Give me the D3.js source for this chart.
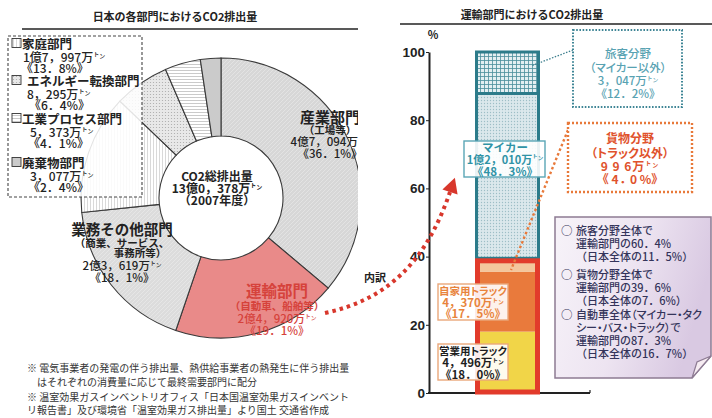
<!DOCTYPE html>
<html>
<head>
<meta charset="utf-8">
<script src="https://cdn.jsdelivr.net/npm/d3@7"></script>
<style>
  html, body { margin: 0; padding: 0; background: #fff; }
  svg { display: block; font-family: "Noto Sans CJK JP", "Noto Sans", sans-serif; }
  .palt { font-feature-settings: "palt"; }
</style>
</head>
<body>
<svg id="chart" width="712" height="418"></svg>
<script>
// ---- CO2 emissions by sector, FY2007 (万トン) ----
const sectorNames = ["産業部門", "運輸部門", "業務その他部門", "家庭部門", "エネルギー転換部門", "工業プロセス部門", "廃棄物部門"];
const sectorSubs  = ["（工場等）", "（自動車、船舶等）", "（商業、サービス、|事務所等）", "", "", "", ""];
const sectorTons  = [47094, 24920, 23619, 17997, 8295, 5373, 3077];
const sectorPct   = [36.1, 19.1, 18.1, 13.8, 6.4, 4.1, 2.4];
const totalTons   = 130378;
const totalYear   = "2007年度";

// ---- Transport sector breakdown (% of transport), stacked bottom to top ----
const modeNames  = ["営業用トラック", "自家用トラック", "貨物分野（トラック以外）", "マイカー", "旅客分野（マイカー以外）"];
const modeGroups = ["貨物", "貨物", "貨物", "旅客", "旅客"];
const modePct    = [18.0, 17.5, 4.0, 48.3, 12.2];
const modeTons   = [4496, 4370, 996, 12010, 3047];
const barCategory = "運輸部門";
const yTicks = [0, 20, 40, 60, 80, 100];

const summaryLines = [
  ["○", "旅客分野全体で"], ["", "運輸部門の60．4%"], ["", "（日本全体の11．5%）"],
  ["○", "貨物分野全体で"], ["", "運輸部門の39．6%"], ["", "（日本全体の7．6%）"],
  ["○", "自動車全体（マイカー・タク"], ["", "シー・バス・トラック）で"], ["", "運輸部門の87．3%"], ["", "（日本全体の16．7%）"]
];
const notes = [
  "※ 電気事業者の発電の伴う排出量、熱供給事業者の熱発生に伴う排出量",
  "はそれぞれの消費量に応じて最終需要部門に配分",
  "※ 温室効果ガスインベントリオフィス「日本国温室効果ガスインベント",
  "リ報告書」及び環境省「温室効果ガス排出量」より国土 交通省作成"
];

// ---- formatting helpers ----
function fmtTons(n) {
  const oku = Math.floor(n / 10000), rest = n % 10000;
  let s;
  if (rest >= 1000 || oku > 0) {
    s = Math.floor(rest / 1000) + "，" + String(rest % 1000).padStart(3, "0");
  } else {
    s = String(rest);
  }
  return (oku > 0 ? oku + "億" : "") + s;
}
function fmtPct(p) { return "《" + p.toFixed(1).replace(".", "．") + "%》"; }

const svg = d3.select("#chart");
const defs = svg.append("defs");

function makePattern(id, w, h, bg, draw) {
  const p = defs.append("pattern").attr("id", id)
    .attr("patternUnits", "userSpaceOnUse").attr("width", w).attr("height", h);
  p.append("rect").attr("width", w).attr("height", h).attr("fill", bg);
  draw(p);
}
makePattern("p-ind", 4, 4, "#d7d7d7", p => p.append("path").attr("d", "M0,4L4,0").attr("stroke", "#e6e6e6").attr("stroke-width", 0.8));
makePattern("p-com", 4, 4, "#dcdcdc", p => p.append("path").attr("d", "M0,4L4,0").attr("stroke", "#e9e9e9").attr("stroke-width", 0.8));
makePattern("p-house", 3, 3, "#ffffff", p => p.append("path").attr("d", "M1.5,0V3").attr("stroke", "#c9c9c9").attr("stroke-width", 0.7));
makePattern("p-energy", 3, 3, "#e8e8e8", p => p.append("circle").attr("cx", 1.5).attr("cy", 1.5).attr("r", 0.6).attr("fill", "#a9a9a9"));
makePattern("p-proc", 3, 3, "#ffffff", p => p.append("path").attr("d", "M0,1.5H3").attr("stroke", "#b3b3b3").attr("stroke-width", 0.7));
makePattern("p-mycar", 3, 3, "#dbe8ec", p => p.append("circle").attr("cx", 1.5).attr("cy", 1.5).attr("r", 0.65).attr("fill", "#9dbec6"));
makePattern("p-psg", 4, 4, "#e4eff2", p => p.append("path").attr("d", "M0,0.5H4M0.5,0V4").attr("stroke", "#4b8e9c").attr("stroke-width", 0.8));

const grad = defs.append("linearGradient").attr("id", "g-info").attr("x1", 0).attr("x2", 1).attr("y1", 0).attr("y2", 0.3);
grad.append("stop").attr("offset", 0).attr("stop-color", "#f7f3f9");
grad.append("stop").attr("offset", 0.55).attr("stop-color", "#ede4f1");
grad.append("stop").attr("offset", 1).attr("stop-color", "#d9c9e2");

defs.append("clipPath").attr("id", "clip-left").append("rect").attr("x", 0).attr("y", 0).attr("width", 358).attr("height", 418);

const sectorFill = ["url(#p-ind)", "#e98a89", "url(#p-com)", "url(#p-house)", "url(#p-energy)", "url(#p-proc)", "#cbcbcb"];

// text helper: a single line, optionally ending with 万 + raised small トン
function label(g, x, y, str, o) {
  const t = g.append("text").attr("x", x).attr("y", y)
    .attr("text-anchor", o.anchor || "middle")
    .attr("dominant-baseline", "central")
    .attr("font-size", o.size).attr("font-weight", o.weight || 700)
    .attr("fill", o.color || "#222");
  if (o.palt) t.attr("class", "palt");
  if (o.tons) {
    t.append("tspan").text(str + "万");
    t.append("tspan").attr("font-size", "0.5em").attr("dy", "-0.5em").text("ト");
    t.append("tspan").attr("font-size", "0.5em").attr("dy", "0.4em").text("ン");
  } else {
    t.text(str);
  }
  if (o.spacing != null) t.attr("letter-spacing", o.spacing);
  return t;
}

// =================== LEFT PANEL: sector doughnut ===================
const left = svg.append("g").attr("clip-path", "url(#clip-left)");
label(left, 175, 16, "日本の各部門におけるCO2排出量", { size: 11 });
left.append("line").attr("x1", 22).attr("x2", 358).attr("y1", 29).attr("y2", 29)
  .attr("stroke", "#222").attr("stroke-width", 1.6);

const cx = 221, cy = 198;
const pie = d3.pie().sort(null).value(d => d);
const arcs = pie(sectorTons);
const arc = d3.arc().innerRadius(62).outerRadius(140);
left.append("g").attr("transform", `translate(${cx},${cy})`)
  .selectAll("path").data(arcs).join("path")
  .attr("d", arc)
  .attr("fill", (d, i) => sectorFill[i])
  .attr("stroke", "#3a3a3a").attr("stroke-width", 1.1);

// legend for the small sectors (drawn over the doughnut)
left.append("rect").attr("x", 8).attr("y", 36).attr("width", 134).attr("height", 161)
  .attr("fill", "#fff").attr("fill-opacity", 0.86)
  .attr("stroke", "#444").attr("stroke-width", 1.1).attr("stroke-dasharray", "3,2");
const legendIdx = [3, 4, 5, 6];
const legendY = [43, 80, 118, 162];
const legendNameX = [22, 27, 22, 22];
const legendValX = [23, 27, 30, 30];
const legendPctX = [21, 29, 28, 28];
legendIdx.forEach((si, k) => {
  const y0 = legendY[k];
  left.append("rect").attr("x", 12).attr("y", y0 - 4.5).attr("width", 9).attr("height", 9)
    .attr("fill", sectorFill[si]).attr("stroke", "#333").attr("stroke-width", 0.9);
  label(left, legendNameX[k], y0, sectorNames[si], { size: 12.5, anchor: "start" });
  label(left, legendValX[k], y0 + 12.5, fmtTons(sectorTons[si]), { size: 12, anchor: "start", tons: true, weight: 500 });
  label(left, legendPctX[k], y0 + 24.5, fmtPct(sectorPct[si]), { size: 12, anchor: "start", weight: 500 });
});

// large sector labels
function sectorLabel(i, x, ys, color, nameSize) {
  label(left, x, ys[0], sectorNames[i], { size: nameSize, color });
  const subs = sectorSubs[i].split("|");
  let k = 1;
  subs.forEach((s, j) => {
    const dx = (i === 2 && j === 1) ? 18 : 0;
    label(left, x + dx, ys[k++], s, { size: 10.5, color, weight: 600 });
  });
  label(left, x, ys[k++], fmtTons(sectorTons[i]), { size: 11.5, color, tons: true, weight: 500 });
  label(left, x, ys[k++], fmtPct(sectorPct[i]), { size: 11.5, color, weight: 500 });
}
sectorLabel(0, 330, [116, 129, 141, 153], "#222", 15);
sectorLabel(2, 122, [228, 242, 252, 265, 277], "#222", 14.5);
sectorLabel(1, 277, [290, 305, 318, 330], "#d6423b", 15.5);

// total in the hole
label(left, 217, 175, "CO2総排出量", { size: 12 });
label(left, 217, 187, fmtTons(totalTons), { size: 12, tons: true });
label(left, 217, 199, "（" + totalYear + "）", { size: 12 });

// notes
notes.forEach((s, i) => {
  label(left, i === 1 ? 37 : 27, [367, 381, 396, 409][i], s, { size: 10, anchor: "start", weight: 400, color: "#333" });
});

// =================== RIGHT PANEL: transport breakdown bar ===================
const right = svg.append("g");
label(right, 532, 14, "運輸部門におけるCO2排出量", { size: 11 });
right.append("line").attr("x1", 400).attr("x2", 712).attr("y1", 24).attr("y2", 24)
  .attr("stroke", "#222").attr("stroke-width", 1.6);

const y = d3.scaleLinear().domain([0, 100]).range([393, 52]);
const x = d3.scaleBand().domain([barCategory]).range([475, 540]).padding(0);
const axisX = 429;

const yAxis = right.append("g").attr("transform", `translate(${axisX},0)`)
  .call(d3.axisLeft(y).tickValues(yTicks).tickSize(3).tickSizeOuter(0).tickPadding(1));
yAxis.select(".domain").attr("stroke", "#222").attr("stroke-width", 2);
yAxis.selectAll(".tick line").attr("stroke", "#222");
yAxis.selectAll(".tick text").attr("font-family", "'Liberation Sans', Arial, sans-serif")
  .attr("font-size", 13.5).attr("font-weight", 700).attr("fill", "#222");
right.append("line").attr("x1", axisX - 1).attr("x2", 590).attr("y1", y(0)).attr("y2", y(0))
  .attr("stroke", "#222").attr("stroke-width", 2);
right.append("line").attr("x1", 590).attr("x2", 590).attr("y1", y(0)).attr("y2", y(0) - 3)
  .attr("stroke", "#222").attr("stroke-width", 1.2);
label(right, 433, 34, "%", { size: 11 });

// stacked segments
const row = { cat: barCategory };
modeNames.forEach((m, i) => row[m] = modePct[i]);
const series = d3.stack().keys(modeNames)([row]);
const modeFill = ["#f1d548", "#e97a3c", "#f4c69c", "url(#p-mycar)", "url(#p-psg)"];
right.append("g").selectAll("rect").data(series).join("rect")
  .attr("x", x(barCategory)).attr("width", x.bandwidth())
  .attr("y", d => y(d[0][1])).attr("height", d => y(d[0][0]) - y(d[0][1]))
  .attr("fill", (d, i) => modeFill[i]);

// group frames (freight / passenger)
const freightTop = d3.sum(modePct.filter((v, i) => modeGroups[i] === "貨物"));
const myCarTop = series[3][0][1];
right.append("rect").attr("x", x(barCategory) + 1.5).attr("width", x.bandwidth() - 3)
  .attr("y", y(100)).attr("height", y(freightTop) - y(100))
  .attr("fill", "none").attr("stroke", "#2c7b8a").attr("stroke-width", 3);
right.append("line").attr("x1", x(barCategory)).attr("x2", x(barCategory) + x.bandwidth())
  .attr("y1", y(myCarTop)).attr("y2", y(myCarTop)).attr("stroke", "#2c7b8a").attr("stroke-width", 3);
right.append("rect").attr("x", x(barCategory) + 2.5).attr("width", x.bandwidth() - 5)
  .attr("y", y(freightTop) + 2.5).attr("height", y(0) - y(freightTop) - 3.5)
  .attr("fill", "none").attr("stroke", "#e23b2b").attr("stroke-width", 5);

// leader lines
right.append("path").attr("d", "M573,50L531,66").attr("fill", "none")
  .attr("stroke", "#3d7f8e").attr("stroke-width", 1.3).attr("stroke-dasharray", "1.5,1.5");
right.append("path").attr("d", `M568,130L511,${y(series[2][0][0]) - 2}`).attr("fill", "none")
  .attr("stroke", "#e8793a").attr("stroke-width", 2.4).attr("stroke-dasharray", "2.5,2.5");

// annotation boxes
function box(x0, y0, w, h, stroke, dash, sw) {
  right.append("rect").attr("x", x0).attr("y", y0).attr("width", w).attr("height", h)
    .attr("fill", "#fff").attr("fill-opacity", 0.9)
    .attr("stroke", stroke).attr("stroke-width", sw).attr("stroke-dasharray", dash);
}
// 旅客分野（マイカー以外）
box(573, 30, 109, 77, "#3e8595", "1.6,1.6", 2);
label(right, 628, 53, "旅客分野", { size: 11.5, color: "#58a2b2", weight: 500 });
label(right, 628, 67, "（マイカー以外）", { size: 11.5, color: "#58a2b2", weight: 500, palt: true });
label(right, 628, 80, fmtTons(modeTons[4]), { size: 11.5, color: "#58a2b2", tons: true, weight: 500 });
label(right, 628, 93, fmtPct(modePct[4]), { size: 11.5, color: "#58a2b2", weight: 500 });

// 貨物分野（トラック以外）
box(568, 123, 124, 69, "#e8793a", "2,2", 2.4);
label(right, 630, 137, "貨物分野", { size: 12, color: "#e0522c" });
label(right, 630, 152, "（トラック以外）", { size: 12, color: "#e0522c", palt: true });
label(right, 630, 165, String(modeTons[2]).split("").join(" "), { size: 12, color: "#e0522c", tons: true, spacing: 1 });
label(right, 630, 178, "《 " + modePct[2].toFixed(1).replace(".", " ． ") + " %》", { size: 12, color: "#e0522c", palt: true });

// マイカー
box(464, 141, 81, 36, "#5aa6b6", null, 1.4);
label(right, 505, 147, "マイカー", { size: 11.5, color: "#2f93a6" });
label(right, 505, 159, fmtTons(modeTons[3]), { size: 11, color: "#2f93a6", tons: true });
label(right, 505, 171, fmtPct(modePct[3]), { size: 11.5, color: "#2f93a6" });

// 自家用トラック
box(438, 284, 70, 36, "#eaa77a", null, 1.4);
label(right, 473, 290, "自家用トラック", { size: 10.5, color: "#e8843c", palt: true });
label(right, 473, 302, fmtTons(modeTons[1]), { size: 11.5, color: "#e8843c", tons: true });
label(right, 473, 313, fmtPct(modePct[1]), { size: 11.5, color: "#e8843c" });

// 営業用トラック
box(438, 344, 70, 36, "#eaa77a", null, 1.4);
label(right, 473, 350, "営業用トラック", { size: 10.5, color: "#1e1e1e", palt: true });
label(right, 473, 362, fmtTons(modeTons[0]), { size: 11.5, color: "#1e1e1e", tons: true });
label(right, 473, 374, fmtPct(modePct[0]), { size: 11.5, color: "#1e1e1e" });

// summary box with a curled corner
right.append("path").attr("d", "M555,217H711V356L692,378H555Z")
  .attr("fill", "url(#g-info)").attr("stroke", "#8d7b93").attr("stroke-width", 1.5);
right.append("path").attr("d", "M711,356L692,378L697,362Z")
  .attr("fill", "#f6ecf2").attr("stroke", "#8d7b93").attr("stroke-width", 1.2);
const sumY = [230, 243, 256, 274, 287, 300, 314, 327, 340, 353];
summaryLines.forEach((ln, i) => {
  if (ln[0]) label(right, 561, sumY[i], ln[0], { size: 11.5, anchor: "start", color: "#34345a", weight: 500 });
  const tight = ln[1].includes("・");
  label(right, 576, sumY[i], ln[1], { size: 11, anchor: "start", color: "#34345a", weight: 500, palt: tight });
});

// dotted arrow from the transport slice to the bar
const arrowPath = "M325,313C385,300 425,265 450,192";
svg.append("path").attr("d", arrowPath).attr("fill", "none")
  .attr("stroke", "#d8372c").attr("stroke-width", 4).attr("stroke-dasharray", "3.5,4");
(function () {
  const ex = 450, ey = 192, dx = 25, dy = -73;
  const L = Math.hypot(dx, dy), ux = dx / L, uy = dy / L, px = -uy, py = ux;
  const tip = [ex + ux * 15, ey + uy * 15];
  const a = [ex + px * 8, ey + py * 8], b = [ex - px * 8, ey - py * 8];
  svg.append("path").attr("d", `M${tip}L${a}L${b}Z`).attr("fill", "#d8372c");
})();
label(svg, 375, 277, "内訳", { size: 11 });
</script>
</body>
</html>
